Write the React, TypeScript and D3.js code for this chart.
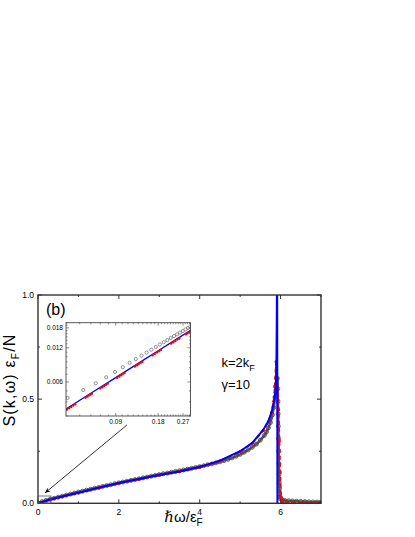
import React, { useEffect, useRef } from 'react';
import * as d3 from 'd3';

// main panel: theory (blue solid line)
const blueX = [0, 0.3, 0.6, 1, 1.5, 2, 2.5, 3, 3.5, 4, 4.5, 5, 5.3, 5.57, 5.7, 5.78, 5.83, 5.86, 5.88, 5.895, 5.905, 5.915, 5.922];
const blueY = [0, 0.018, 0.033, 0.051, 0.075, 0.097, 0.117, 0.136, 0.153, 0.174, 0.205, 0.25, 0.29, 0.352, 0.395, 0.44, 0.48, 0.515, 0.56, 0.65, 0.85, 1.3, 0];

// main panel: red dashed line with dots
const redX = [0, 0.3, 0.6, 1, 1.5, 2, 2.5, 3, 3.5, 4, 4.5, 5, 5.3, 5.57, 5.7, 5.78, 5.83, 5.86, 5.89, 5.92, 5.95, 5.97, 5.99, 6.01, 6.05, 6.3, 7];
const redY = [0, 0.017, 0.032, 0.05, 0.074, 0.096, 0.116, 0.135, 0.152, 0.173, 0.204, 0.248, 0.288, 0.35, 0.392, 0.437, 0.49, 0.56, 0.68, 0.55, 0.45, 0.3, 0.15, 0.03, 0.005, 0.002, 0.001];

// main panel: gray open circles
const grayX = [
  0, 0.1, 0.2, 0.3, 0.4, 0.5, 0.6, 0.7, 0.8, 0.9,
  1.0, 1.1, 1.2, 1.3, 1.4, 1.5, 1.6, 1.7, 1.8, 1.9,
  2.0, 2.1, 2.2, 2.3, 2.4, 2.5, 2.6, 2.7, 2.8, 2.9,
  3.0, 3.1, 3.2, 3.3, 3.4, 3.5, 3.6, 3.7, 3.8, 3.9,
  4.0, 4.1, 4.2, 4.3, 4.4, 4.5, 4.6, 4.7, 4.8, 4.9,
  5.0, 5.1, 5.2, 5.3, 5.4, 5.5, 5.6, 5.65, 5.7, 5.75,
  5.8, 5.83, 5.86, 5.88, 5.9, 5.92, 5.93, 5.935, 5.94, 5.945,
  5.95, 5.955, 5.96, 5.965, 5.97, 5.975, 5.98, 5.99, 6.0, 6.05,
  6.1, 6.2, 6.3, 6.4, 6.5, 6.6, 6.7, 6.8, 6.9, 7.0,
];
const grayY = [
  0.002, 0.008, 0.014, 0.019, 0.024, 0.029, 0.034, 0.039, 0.044, 0.049,
  0.054, 0.058, 0.063, 0.067, 0.072, 0.076, 0.081, 0.085, 0.089, 0.094,
  0.098, 0.102, 0.106, 0.11, 0.114, 0.118, 0.122, 0.126, 0.13, 0.134,
  0.138, 0.142, 0.145, 0.149, 0.153, 0.156, 0.16, 0.164, 0.168, 0.172,
  0.176, 0.18, 0.185, 0.189, 0.194, 0.199, 0.205, 0.211, 0.218, 0.226,
  0.235, 0.245, 0.256, 0.269, 0.284, 0.303, 0.326, 0.342, 0.362, 0.388,
  0.425, 0.46, 0.51, 0.56, 0.6, 0.6, 0.55, 0.49, 0.43, 0.37,
  0.31, 0.25, 0.19, 0.14, 0.1, 0.07, 0.045, 0.03, 0.022, 0.016,
  0.014, 0.012, 0.011, 0.01, 0.009, 0.008, 0.007, 0.0065, 0.006, 0.0055,
];

// inset (log-log)
const insetBlueX = [0.04, 0.06, 0.09, 0.13, 0.18, 0.24, 0.31];
const insetBlueY = [0.00346, 0.00476, 0.00655, 0.00875, 0.0113, 0.01418, 0.01735];

const insetRedX = [
  0.0405, 0.042, 0.0435, 0.045, 0.0465,
  0.055, 0.0565, 0.058, 0.0595, 0.061,
  0.07, 0.0722, 0.0745, 0.0768, 0.079,
  0.092, 0.095, 0.098, 0.101, 0.104,
  0.123, 0.127, 0.131, 0.135, 0.139,
  0.164, 0.17, 0.176, 0.182, 0.188,
  0.222, 0.23, 0.238, 0.246, 0.254,
  0.282, 0.29, 0.298, 0.305,
];
const insetRedY = [
  0.00341, 0.00351, 0.00361, 0.00371, 0.00381,
  0.00435, 0.00445, 0.00454, 0.00463, 0.00472,
  0.00526, 0.00539, 0.00553, 0.00566, 0.00579,
  0.00653, 0.00669, 0.00686, 0.00703, 0.00719,
  0.00821, 0.00842, 0.00862, 0.00883, 0.00904,
  0.0103, 0.0106, 0.0109, 0.0112, 0.0115,
  0.0131, 0.0134, 0.0138, 0.0142, 0.0145,
  0.0158, 0.0161, 0.0165, 0.0168,
];

const insetGrayX = [0.041, 0.053, 0.065, 0.077, 0.089, 0.101, 0.113, 0.125, 0.137, 0.149, 0.161, 0.173, 0.185, 0.197, 0.209, 0.221, 0.233, 0.245, 0.257, 0.269, 0.281, 0.293];
const insetGrayY = [0.00433, 0.00509, 0.00584, 0.00659, 0.00735, 0.0081, 0.00885, 0.00955, 0.01025, 0.0109, 0.01155, 0.0122, 0.01285, 0.01345, 0.01405, 0.01465, 0.01525, 0.0158, 0.01635, 0.0169, 0.01745, 0.018];

const xTicks = [0, 2, 4, 6];
const xMinorTicks = [1, 3, 5, 7];
const yTicks = [0, 0.5, 1.0];
const yMinorTicks = [0.25, 0.75];
const insetXTicks = [0.09, 0.18, 0.27];
const insetYTicks = [0.006, 0.012, 0.018];

const font = "'Liberation Sans', Arial, sans-serif";

export default function App() {
  const svgRef = useRef<SVGSVGElement>(null);

  useEffect(() => {
    const svg = d3.select(svgRef.current);
    svg.selectAll('*').remove();

    // plot box
    const left = 38, right = 321, top = 295, bottom = 503.3;

    const x = d3.scaleLinear().domain([0, 7]).range([left, right]);
    const y = d3.scaleLinear().domain([0, 1]).range([bottom, top]);

    const defs = svg.append('defs');
    defs.append('clipPath').attr('id', 'mainClip')
      .append('rect').attr('x', left).attr('y', top).attr('width', right - left).attr('height', bottom - top);
    defs.append('marker')
      .attr('id', 'arrowHead')
      .attr('viewBox', '0 0 10 10')
      .attr('refX', 9).attr('refY', 5)
      .attr('markerWidth', 9).attr('markerHeight', 7)
      .attr('orient', 'auto')
      .append('path').attr('d', 'M0,1 L10,5 L0,9 L3,5 Z').attr('fill', '#000');

    const plot = svg.append('g').attr('clip-path', 'url(#mainClip)');

    // gray circles
    const grayPts = grayX.map((d, i) => [d, grayY[i]] as [number, number]);
    const line = d3.line<[number, number]>().x(d => x(d[0])).y(d => y(d[1]));
    plot.append('path').datum(grayPts).attr('d', line)
      .attr('fill', 'none').attr('stroke', '#555').attr('stroke-width', 2.6);
    plot.selectAll('circle.gray').data(grayPts).enter().append('circle')
      .attr('class', 'gray')
      .attr('cx', d => x(d[0])).attr('cy', d => y(d[1])).attr('r', 2)
      .attr('fill', 'none').attr('stroke', '#444').attr('stroke-width', 0.8);

    // red dashed + dots
    const redPts = redX.map((d, i) => [d, redY[i]] as [number, number]);
    plot.append('path').datum(redPts).attr('d', line)
      .attr('fill', 'none').attr('stroke', '#ff0000').attr('stroke-width', 2)
      .attr('stroke-dasharray', '4,3');
    plot.selectAll('circle.red').data(redPts).enter().append('circle')
      .attr('class', 'red')
      .attr('cx', d => x(d[0])).attr('cy', d => y(d[1])).attr('r', 1.6)
      .attr('fill', '#ff0000');

    // blue theory
    const bluePts = blueX.map((d, i) => [d, blueY[i]] as [number, number]);
    plot.append('path').datum(bluePts).attr('d', line)
      .attr('fill', 'none').attr('stroke', '#0000ff').attr('stroke-width', 2);

    // frame
    const axisColor = '#333';
    svg.append('rect').attr('x', left).attr('y', top).attr('width', right - left).attr('height', bottom - top)
      .attr('fill', 'none').attr('stroke', axisColor).attr('stroke-width', 1.4);

    // ticks (inward, all four sides)
    const tickG = svg.append('g').attr('stroke', axisColor).attr('stroke-width', 1);
    xTicks.forEach(t => {
      tickG.append('line').attr('x1', x(t)).attr('x2', x(t)).attr('y1', bottom).attr('y2', bottom - 4);
      tickG.append('line').attr('x1', x(t)).attr('x2', x(t)).attr('y1', top).attr('y2', top + 4);
    });
    xMinorTicks.forEach(t => {
      tickG.append('line').attr('x1', x(t)).attr('x2', x(t)).attr('y1', bottom).attr('y2', bottom - 2);
      tickG.append('line').attr('x1', x(t)).attr('x2', x(t)).attr('y1', top).attr('y2', top + 2);
    });
    yTicks.forEach(t => {
      tickG.append('line').attr('x1', left).attr('x2', left + 4).attr('y1', y(t)).attr('y2', y(t));
      tickG.append('line').attr('x1', right).attr('x2', right - 4).attr('y1', y(t)).attr('y2', y(t));
    });
    yMinorTicks.forEach(t => {
      tickG.append('line').attr('x1', left).attr('x2', left + 2).attr('y1', y(t)).attr('y2', y(t));
      tickG.append('line').attr('x1', right).attr('x2', right - 2).attr('y1', y(t)).attr('y2', y(t));
    });

    // tick labels
    svg.append('g').selectAll('text').data(xTicks).enter().append('text')
      .attr('x', d => x(d)).attr('y', bottom + 12)
      .attr('text-anchor', 'middle').style('font-family', font).style('font-size', '8.5px')
      .text(d => d3.format('d')(d));
    svg.append('g').selectAll('text').data(yTicks).enter().append('text')
      .attr('x', left - 4).attr('y', d => y(d) + 3)
      .attr('text-anchor', 'end').style('font-family', font).style('font-size', '8.5px')
      .text(d => d3.format('.1f')(d));

    // axis titles
    const xt = svg.append('text').attr('x', x(3.6)).attr('y', 521.7)
      .attr('text-anchor', 'middle').style('font-family', font).style('font-size', '15px');
    xt.append('tspan').style('font-family', "'DejaVu Serif', serif").style('font-style', 'italic').text('ℏ');
    xt.append('tspan').text('ω/ε');
    xt.append('tspan').attr('dy', 4).style('font-size', '10px').text('F');

    const yt = svg.append('text')
      .attr('transform', `translate(15,380)rotate(-90)`)
      .attr('text-anchor', 'middle').style('font-family', font).style('font-size', '16px')
      .style('letter-spacing', '1.2px');
    yt.append('tspan').text('S(k,ω) ε');
    yt.append('tspan').attr('dy', 4).style('font-size', '10px').text('F');
    yt.append('tspan').attr('dy', -4).text('/N');

    // panel label and parameters
    svg.append('text').attr('x', left + 8).attr('y', top + 20)
      .style('font-family', font).style('font-size', '16px').text('(b)');
    const kt = svg.append('text').attr('x', 221.5).attr('y', 366.5)
      .style('font-family', font).style('font-size', '13px');
    kt.append('tspan').text('k=2k');
    kt.append('tspan').attr('dy', 4).style('font-size', '9px').text('F');
    svg.append('text').attr('x', 221.5).attr('y', 388.5)
      .style('font-family', font).style('font-size', '13px').text('γ=10');

    // zoom box + arrow
    svg.append('rect')
      .attr('x', x(0)).attr('y', y(0.035)).attr('width', x(0.32) - x(0)).attr('height', y(0) - y(0.035))
      .attr('fill', 'none').attr('stroke', '#555').attr('stroke-width', 0.8);
    svg.append('line')
      .attr('x1', x(2.2)).attr('y1', y(0.376)).attr('x2', x(0.18)).attr('y2', y(0.051))
      .attr('stroke', '#000').attr('stroke-width', 0.8).attr('marker-end', 'url(#arrowHead)');

    // ---- inset ----
    const iL = 66, iR = 190.5, iT = 322.7, iB = 416;
    const ix = d3.scaleLog().domain([0.04, 0.305]).range([iL, iR]);
    const iy = d3.scaleLog().domain([0.003, 0.02]).range([iB, iT]);

    svg.append('rect').attr('x', iL).attr('y', iT).attr('width', iR - iL).attr('height', iB - iT)
      .attr('fill', '#fff');
    defs.append('clipPath').attr('id', 'insetClip')
      .append('rect').attr('x', iL).attr('y', iT).attr('width', iR - iL).attr('height', iB - iT);
    const ins = svg.append('g').attr('clip-path', 'url(#insetClip)');

    const iline = d3.line<[number, number]>().x(d => ix(d[0])).y(d => iy(d[1]));

    const iGray = insetGrayX.map((d, i) => [d, insetGrayY[i]] as [number, number]);
    ins.selectAll('circle.ig').data(iGray).enter().append('circle')
      .attr('class', 'ig')
      .attr('cx', d => ix(d[0])).attr('cy', d => iy(d[1])).attr('r', 1.6)
      .attr('fill', 'none').attr('stroke', '#666').attr('stroke-width', 0.7);

    const iBlue = insetBlueX.map((d, i) => [d, insetBlueY[i]] as [number, number]);
    ins.append('path').datum(iBlue).attr('d', iline)
      .attr('fill', 'none').attr('stroke', '#0000ff').attr('stroke-width', 1.3);

    const iRed = insetRedX.map((d, i) => [d, insetRedY[i]] as [number, number]);
    ins.selectAll('circle.ir').data(iRed).enter().append('circle')
      .attr('class', 'ir')
      .attr('cx', d => ix(d[0])).attr('cy', d => iy(d[1])).attr('r', 1.2)
      .attr('fill', '#ff0000');

    svg.append('rect').attr('x', iL).attr('y', iT).attr('width', iR - iL).attr('height', iB - iT)
      .attr('fill', 'none').attr('stroke', '#444').attr('stroke-width', 0.9);

    const iTick = svg.append('g').attr('stroke', '#444').attr('stroke-width', 0.6);
    d3.range(5, 31).map(v => v / 100).forEach(t => {
      const major = insetXTicks.some(m => Math.abs(m - t) < 1e-9);
      const len = major ? 3 : 1.6;
      iTick.append('line').attr('x1', ix(t)).attr('x2', ix(t)).attr('y1', iB).attr('y2', iB - len);
      iTick.append('line').attr('x1', ix(t)).attr('x2', ix(t)).attr('y1', iT).attr('y2', iT + len);
    });
    d3.range(3, 21).map(v => v / 1000).forEach(t => {
      const major = insetYTicks.some(m => Math.abs(m - t) < 1e-9);
      const len = major ? 3 : 1.6;
      iTick.append('line').attr('x1', iL).attr('x2', iL + len).attr('y1', iy(t)).attr('y2', iy(t));
      iTick.append('line').attr('x1', iR).attr('x2', iR - len).attr('y1', iy(t)).attr('y2', iy(t));
    });

    svg.append('g').selectAll('text').data(insetXTicks).enter().append('text')
      .attr('x', d => ix(d)).attr('y', iB + 7.5)
      .attr('text-anchor', 'middle').style('font-family', font).style('font-size', '6.5px')
      .text(d => d3.format('.2f')(d));
    svg.append('g').selectAll('text').data(insetYTicks).enter().append('text')
      .attr('x', iL - 3).attr('y', d => iy(d) + 2.3)
      .attr('text-anchor', 'end').style('font-family', font).style('font-size', '6.5px')
      .text(d => d3.format('.3f')(d));
  }, []);

  return (
    <svg ref={svgRef} width={415} height={537} style={{ position: 'absolute', left: 0, top: 0, background: '#fff' }} />
  );
}
